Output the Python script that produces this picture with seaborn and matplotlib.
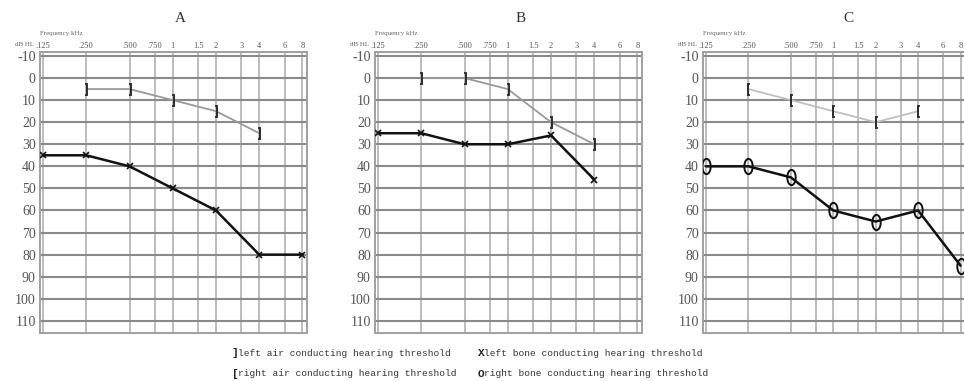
import matplotlib
matplotlib.use("Agg")
import matplotlib.pyplot as plt
import seaborn as sns
from matplotlib.path import Path
from matplotlib.transforms import Affine2D

# audiogram data (frequency in kHz, threshold in dB HL)
freq_ticks = [0.125, 0.25, 0.5, 0.75, 1, 1.5, 2, 3, 4, 6, 8]
freq_labels = [".125", ".250", ".500", ".750", "1", "1.5", "2", "3", "4", "6", "8"]
db_ticks = list(range(-10, 120, 10))

a_air_freq = [0.25, 0.5, 1, 2, 4]
a_air = [5, 5, 10, 15, 25]
a_bone_freq = [0.125, 0.25, 0.5, 1, 2, 4, 8]
a_bone = [35, 35, 40, 50, 60, 80, 80]

b_air_freq = [0.25, 0.5, 1, 2, 4]
b_air = [0, 0, 5, 20, 30]
b_bone_freq = [0.125, 0.25, 0.5, 1, 2, 4]
b_bone = [25, 25, 30, 30, 26, 46]

c_air_freq = [0.25, 0.5, 1, 2, 4]
c_air = [5, 10, 15, 20, 15]
c_bone_freq = [0.125, 0.25, 0.5, 1, 2, 4, 8]
c_bone = [40, 40, 45, 60, 65, 60, 85]

titles = ["A", "B", "C"]

sns.set_style("white")
plt.rcParams["font.family"] = ["Liberation Serif", "DejaVu Serif"]

W, H = 964, 381
fig = plt.figure(figsize=(W / 100, H / 100), dpi=100)

ellipse = Path.unit_circle().transformed(Affine2D().scale(0.55, 1.0))

panels = [
    # left px, width px, air data, bone data, air marker, air colour, bone marker
    (40, 267, (a_air_freq, a_air), (a_bone_freq, a_bone), "$]$", "#9a9a9a", "x"),
    (375, 267, (b_air_freq, b_air), (b_bone_freq, b_bone), "$]$", "#9a9a9a", "x"),
    (703, 262, (c_air_freq, c_air), (c_bone_freq, c_bone), "$[$", "#c0c0c0", ellipse),
]

top_px, bot_px = 52, 333
title_x = [180, 521, 848]

for i, (left, width_px, air, bone, air_marker, air_col, bone_marker) in enumerate(panels):
    ax = fig.add_axes([left / W, 1 - bot_px / H, width_px / W, (bot_px - top_px) / H])
    ax.set_xscale("log")
    ax.set_xlim(0.119, 8.6)
    ax.set_ylim(115.5, -11.8)

    for f in freq_ticks:
        ax.axvline(f, color="#bdbdbd", lw=1.4, zorder=1)
    for d in db_ticks:
        ax.axhline(d, color="#8a8a8a", lw=1.5, zorder=1)

    sns.lineplot(x=air[0], y=air[1], ax=ax, color=air_col, lw=1.3,
                 marker=air_marker, markersize=9, markeredgecolor="#222222",
                 markerfacecolor="#222222", markeredgewidth=0.6, zorder=3)
    if bone_marker == "x":
        sns.lineplot(x=bone[0], y=bone[1], ax=ax, color="#111111", lw=1.8,
                     marker="x", markersize=5, markeredgewidth=1.2,
                     markeredgecolor="#111111", zorder=4)
    else:
        sns.lineplot(x=bone[0], y=bone[1], ax=ax, color="#111111", lw=1.8,
                     marker=bone_marker, markersize=11, markerfacecolor="none",
                     markeredgecolor="#111111", markeredgewidth=1.4, zorder=4)

    ax.set_xticks(freq_ticks)
    ax.set_xticklabels(freq_labels)
    ax.minorticks_off()
    ax.set_yticks(db_ticks)
    ax.set_yticklabels([str(d) for d in db_ticks])
    ax.tick_params(axis="x", top=True, labeltop=True, bottom=False, labelbottom=False,
                   length=0, labelsize=6, pad=1.5, colors="#555555")
    ax.tick_params(axis="y", length=0, labelsize=10, pad=3, colors="#555555")
    ax.set_xlabel("")
    ax.set_ylabel("")
    for s in ax.spines.values():
        s.set_color("#a0a0a0")
        s.set_linewidth(1.4)

    fig.text(left / W, 1 - 34 / H, "Frequency kHz", fontsize=5, color="#666666",
             ha="left", va="center")
    fig.text((left - 6) / W, 1 - 45 / H, "dB HL", fontsize=5, color="#666666",
             ha="right", va="center")
    fig.text(title_x[i] / W, 1 - 19 / H, titles[i], fontsize=11, color="#333333",
             ha="center", va="center")

# legend as text rows
mono = ["Liberation Mono", "DejaVu Sans Mono"]
legend_items = [
    (232, 353, "]", "left air conducting hearing threshold"),
    (478, 353, "X", "left bone conducting hearing threshold"),
    (232, 374, "[", "right air conducting hearing threshold"),
    (478, 374, "O", "right bone conducting hearing threshold"),
]
for x, y, sym, label in legend_items:
    fig.text(x / W, 1 - y / H, sym, fontsize=8, family=mono, weight="bold",
             color="#222222", ha="left", va="center")
    fig.text((x + 6) / W, 1 - y / H, label, fontsize=6.8, family=mono,
             color="#333333", ha="left", va="center")

fig.savefig("out.png", dpi=100)
